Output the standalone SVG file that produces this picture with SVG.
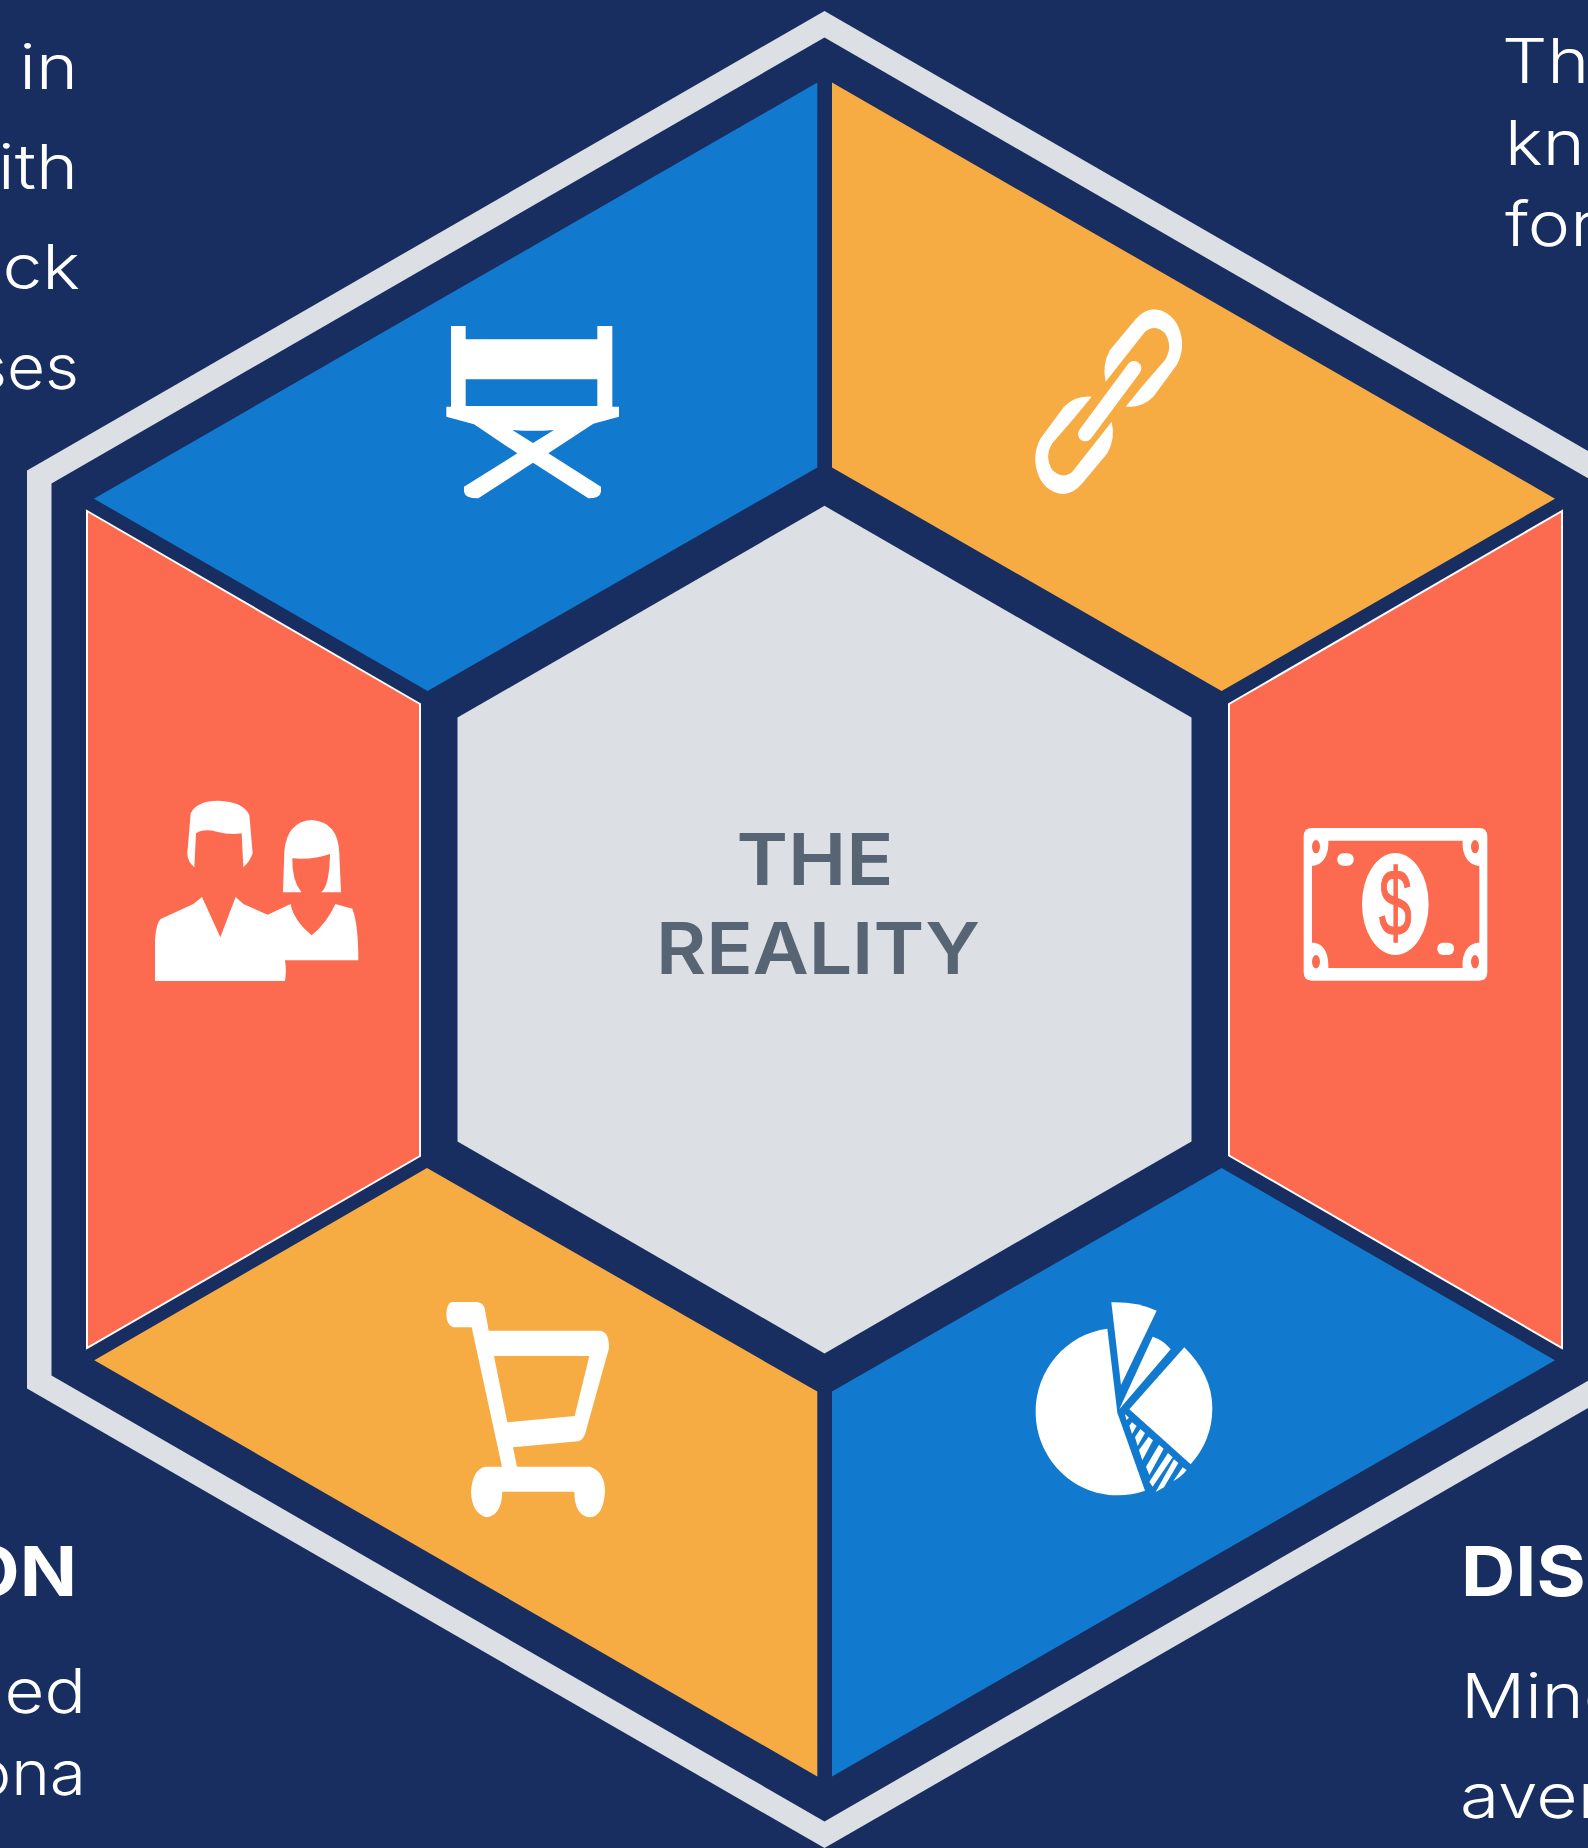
<svg xmlns="http://www.w3.org/2000/svg" width="1588" height="1848" viewBox="0 0 1588 1848">
<style>
.ring{fill:#dcdfe4}
.bg{fill:#182d60}
.blue{fill:#127ace}
.orange{fill:#f7ac43}
.coral{fill:#fc6a4f;stroke:#fff;stroke-width:2}
.icon{fill:#fff;fill-rule:evenodd}
.body{font-family:"Inter","Liberation Sans",sans-serif;font-weight:300;font-size:61.5px;fill:#fff}
.head{font-family:"Inter","Liberation Sans",sans-serif;font-weight:700;font-size:69px;fill:#fff}
.center{font-family:"Inter","Liberation Sans",sans-serif;font-weight:600;font-size:72px;fill:#566473}
</style>
<rect class="bg" width="1588" height="1848"/>
<g id="hexagon-frame">
<polygon class="ring" points="824.5,11 1622,470.5 1622,1388.5 824.5,1848 27,1388.5 27,470.5"/>
<polygon class="bg" points="824.5,37.5 1597,483.5 1597,1375.5 824.5,1821.5 51.5,1375.5 51.5,483.5"/>
</g>
<g id="center">
<polygon class="ring" points="824.5,505.8 1191.5,717.6 1191.5,1141.4 824.5,1353.4 457.5,1141.4 457.5,717.6"/>
<text class="center" x="736.5" y="885" textLength="157" lengthAdjust="spacingAndGlyphs">THE</text>
<text class="center" x="656" y="974.3" textLength="324" lengthAdjust="spacingAndGlyphs">REALITY</text>
</g>
<g id="segment-top-left">
<polygon class="blue" points="817.3,82.6 817.3,467.4 427.6,691 93.9,498.7"/>
<path class="icon" transform="translate(430,310) scale(.33333)" d="M63,48H107V88H502V48H547V290H567V320L490,341L355,430L513,530V545Q510,565 475,565L309,458L145,565Q105,565 102,545V530L262,430L132,343L49,320V290H63ZM107,208V288H502V208ZM247,360Q310,365 372,360L309,399Z"/>
</g>
<g id="segment-top-right">
<polygon class="orange" points="832,82.6 1555,498.7 1221.6,691 832,467.4"/>
<g transform="translate(1010,290) scale(.33333)">
<path class="icon" d="M287,275Q275,225 300,180L375,90Q400,60 430,58Q480,60 505,110Q530,170 500,225L430,320Q395,355 347,350L400,285L465,210Q490,170 465,130Q435,100 405,125Z"/>
<path class="icon" transform="translate(592,670) rotate(180)" d="M287,275Q275,225 300,180L375,90Q400,60 430,58Q480,60 505,110Q530,170 500,225L430,320Q395,355 347,350L400,285L465,210Q490,170 465,130Q435,100 405,125Z"/>
<path d="M372,235L226,432" stroke="#fff" stroke-width="44" stroke-linecap="round" fill="none"/>
</g>
</g>
<g id="segment-right">
<polygon class="coral" points="1562,511 1229,704 1229,1155.5 1562,1348"/>
<g transform="translate(1280,800) scale(.33333)">
<path class="icon" d="M96,84H597Q622,84 622,109V517Q622,542 597,542H96Q71,542 71,517V109Q71,84 96,84ZM145,122C147,170 125,197 96,197V428C125,428 147,450 145,504H548C545,450 570,428 598,428V197C570,197 545,170 548,122ZM96,140A12,20 0 1 0 120,140A12,20 0 1 0 96,140ZM573,140A12,20 0 1 0 597,140A12,20 0 1 0 573,140ZM96,485A12,20 0 1 0 120,485A12,20 0 1 0 96,485ZM573,485A12,20 0 1 0 597,485A12,20 0 1 0 573,485Z"/>
<rect class="icon" x="172" y="160" width="49" height="37" rx="17"/>
<rect class="icon" x="472" y="428" width="50" height="37" rx="17"/>
<ellipse class="icon" cx="346" cy="312" rx="100" ry="153"/>
<text transform="translate(346,405) scale(.62,1)" text-anchor="middle" font-family="Liberation Sans" font-size="285" fill="#fc6a4f" stroke="#fc6a4f" stroke-width="4">$</text>
</g>
</g>
<g id="segment-bottom-right">
<polygon class="blue" points="1555,1360.3 1221.6,1168 832,1391.6 832,1776.4"/>
<g class="icon" transform="translate(1010,1280) scale(.33333)">
<path d="M292,146C168,162 77,270 77,396C77,533 187,646 322,646Q365,646 405,632L322,398Z"/>
<path d="M304,67Q380,65 440,92L333,315Z"/>
<path d="M428,170Q460,180 482,208L328,388Z"/>
<path d="M523,202Q607,285 607,385Q607,480 542,553L358,388Z"/>
<path d="M345,402L357,413L349,420ZM366,427L380,438L366,462L358,437ZM391,447L405,459L383,498L375,472ZM416,470L429,481L397,541L387,510ZM447,494L461,506L418,585L408,560ZM474,519L488,532L428,620L418,605ZM492,538L505,549L462,622L437,636ZM518,562L530,570Q515,590 490,603Z"/>
</g>
</g>
<g id="segment-bottom-left">
<polygon class="orange" points="94.3,1360.3 427,1168 817.3,1391.6 817.3,1776.4"/>
<path class="icon" transform="translate(430,1280) scale(.33333)" d="M65,66H140Q162,68 165,90L176,152H510Q538,155 537,205L470,445Q462,482 445,484L249,502L261,560H480Q525,575 525,635Q520,710 478,712Q433,705 433,635H217Q215,705 170,712Q125,700 123,635Q127,570 165,560H216L125,142H70Q50,135 49,105Q50,70 65,66ZM192,228H478L434,408L232,427Z"/>
</g>
<g id="segment-left">
<polygon class="coral" points="87,511 420,704 420,1156 87,1348"/>
<g class="icon" transform="translate(130,780) scale(.33333)">
<path d="M182,100Q200,62 265,62Q340,65 358,105L368,220Q360,245 340,262L335,160Q300,165 260,155Q220,145 198,160L193,262Q172,245 172,220Z"/>
<path d="M545,120Q625,125 628,220L633,337H573Q598,320 600,222Q550,240 487,235Q485,300 514,337H459L463,215Q470,125 545,120Z"/>
<path d="M75,603V480Q78,430 92,417L190,372L216,351L271,472L317,351L340,372L413,404L482,372Q490,420 545,466Q590,430 616,372L667,386Q685,430 685,541H465Q470,570 465,603Z"/>
</g>
</g>
<g id="text-top-left" text-anchor="end">
<text class="body" transform="translate(78,89) scale(1.16,1)">in</text>
<text class="body" transform="translate(78,189) scale(1.16,1)">ith</text>
<text class="body" transform="translate(80,289) scale(1.16,1)">ck</text>
<text class="body" transform="translate(79,389) scale(1.07,1)">ses</text>
</g>
<g id="text-top-right">
<text class="body" transform="translate(1502,82.6) scale(1.16,1)">The</text>
<text class="body" transform="translate(1505,165) scale(1.16,1)">kn</text>
<text class="body" transform="translate(1505,246.4) scale(1.16,1)">for</text>
</g>
<g id="text-bottom-left" text-anchor="end">
<text class="head" transform="translate(77,1596) scale(1.09,1)">ON</text>
<text class="body" transform="translate(86,1713) scale(1.12,1)">ed</text>
<text class="body" transform="translate(86,1795) scale(1.07,1)">ona</text>
</g>
<g id="text-bottom-right">
<text class="head" transform="translate(1461,1596) scale(1.09,1)">DIS</text>
<text class="body" transform="translate(1461,1718) scale(1.16,1)">Mind</text>
<text class="body" transform="translate(1460,1818) scale(1.16,1)">aver</text>
</g>
</svg>
